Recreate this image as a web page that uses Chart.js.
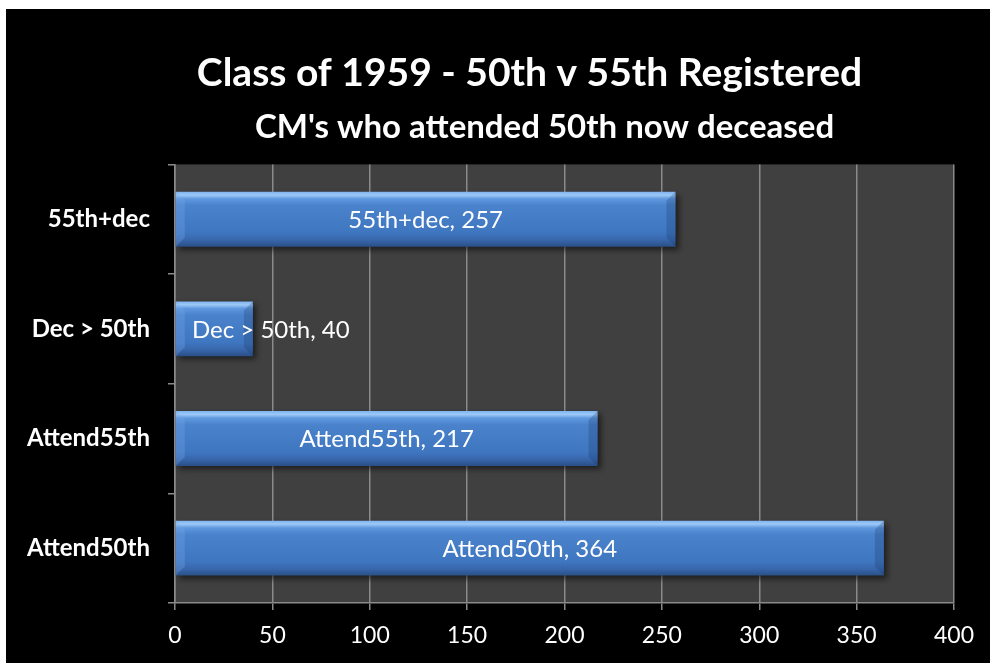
<!DOCTYPE html>
<html>
<head>
<meta charset="utf-8">
<script src="https://cdn.jsdelivr.net/npm/chart.js@4"></script>
<style>
html,body{margin:0;padding:0;background:#fff;width:990px;height:663px;overflow:hidden;}
#wrap{position:absolute;left:6px;top:9px;width:984px;height:654px;background:#000;}
canvas{display:block;}
</style>
</head>
<body>
<div id="wrap"><canvas id="c" width="984" height="654"></canvas></div>
<script>
const categories = ['55th+dec', 'Dec > 50th', 'Attend55th', 'Attend50th'];
const values = [257, 40, 217, 364];
const titleText = 'Class of 1959 - 50th v 55th Registered';
const subtitleText = "CM's who attended 50th now deceased";
const xMin = 0, xMax = 400, xStep = 50;

const FONT = 'Lato, "Liberation Sans", sans-serif';
const BAR_PCT = 0.5;
const TITLE_LEFT = 99;
const SUBTITLE_LEFT = 129;

function barGradient(context) {
  const chart = context.chart;
  const ca = chart.chartArea;
  if (!ca) return '#4a7ec8';
  const ys = chart.scales.y;
  const center = ys.getPixelForValue(context.dataIndex);
  const half = ys.height / categories.length * BAR_PCT / 2;
  const g = chart.ctx.createLinearGradient(0, center - half, 0, center + half);
  g.addColorStop(0, '#7fb2ee');
  g.addColorStop(0.06, '#9cc9f7');
  g.addColorStop(0.13, '#5f98de');
  g.addColorStop(0.25, '#4a82cc');
  g.addColorStop(0.75, '#3f76c0');
  g.addColorStop(0.88, '#3866ab');
  g.addColorStop(1, '#2a4f86');
  return g;
}

const plotBg = {
  id: 'plotBg',
  afterLayout(chart) {
    chart.boxes.forEach(b => {
      if (b.options && b.position === 'top') {
        if (b.options.text === titleText) b.left = TITLE_LEFT;
        else if (b.options.text === subtitleText) b.left = SUBTITLE_LEFT;
        b.width = b.right - b.left;
      }
    });
  },
  beforeDraw(chart) {
    const {ctx, chartArea: a} = chart;
    ctx.save();
    ctx.fillStyle = '#404040';
    ctx.fillRect(a.left, a.top, a.right - a.left, a.bottom - a.top);
    ctx.restore();
  }
};

const barDeco = {
  id: 'barDeco',
  beforeDatasetsDraw(chart) {
    const ctx = chart.ctx;
    ctx.save();
    ctx.shadowColor = 'rgba(0,0,0,0.55)';
    ctx.shadowBlur = 6;
    ctx.shadowOffsetX = 3;
    ctx.shadowOffsetY = 3;
  },
  afterDatasetsDraw(chart) {
    const ctx = chart.ctx;
    ctx.restore();
    const meta = chart.getDatasetMeta(0);
    ctx.save();
    meta.data.forEach((el, i) => {
      const x0 = el.base, x1 = el.x;
      const yt = el.y - el.height / 2, yb = el.y + el.height / 2;
      const b = Math.min(9, (x1 - x0) / 3);
      ctx.fillStyle = 'rgba(120,170,235,0.3)';
      ctx.beginPath();
      ctx.moveTo(x0, yt); ctx.lineTo(x0 + b, yt + b); ctx.lineTo(x0 + b, yb - b); ctx.lineTo(x0, yb); ctx.closePath();
      ctx.fill();
      ctx.fillStyle = 'rgba(20,50,100,0.25)';
      ctx.beginPath();
      ctx.moveTo(x1, yt); ctx.lineTo(x1 - b, yt + b); ctx.lineTo(x1 - b, yb - b); ctx.lineTo(x1, yb); ctx.closePath();
      ctx.fill();
    });
    ctx.font = '24px ' + FONT;
    ctx.fillStyle = '#ffffff';
    ctx.textBaseline = 'middle';
    ctx.textAlign = 'center';
    const left = chart.chartArea.left;
    meta.data.forEach((el, i) => {
      const txt = categories[i] + ', ' + values[i];
      const w = ctx.measureText(txt).width;
      let cx = (el.base + el.x) / 2;
      if (cx - w / 2 < left + 17) cx = left + 17 + w / 2;
      ctx.fillText(txt, cx, el.y + 1);
    });
    ctx.restore();
  }
};

new Chart(document.getElementById('c'), {
  type: 'bar',
  data: {
    labels: categories,
    datasets: [{
      data: values,
      backgroundColor: barGradient,
      borderWidth: 0,
      categoryPercentage: 1,
      barPercentage: BAR_PCT
    }]
  },
  plugins: [plotBg, barDeco],
  options: {
    indexAxis: 'y',
    responsive: false,
    animation: false,
    layout: { padding: { left: 0, right: 36, top: 0, bottom: 0 } },
    plugins: {
      legend: { display: false },
      tooltip: { enabled: false },
      title: {
        display: true,
        text: titleText,
        color: '#ffffff',
        font: { family: FONT, size: 39, weight: 'bold', lineHeight: 1.2 },
        padding: { top: 41, bottom: 0 }
      },
      subtitle: {
        display: true,
        text: subtitleText,
        color: '#ffffff',
        font: { family: FONT, size: 33, weight: 'bold', lineHeight: 1.2 },
        padding: { top: 11, bottom: 17 }
      }
    },
    scales: {
      x: {
        type: 'linear',
        min: xMin,
        max: xMax,
        ticks: { stepSize: xStep, color: '#ffffff', font: { family: FONT, size: 23 }, padding: 12 },
        grid: { color: '#8a8a8a', lineWidth: 1.5, tickLength: 7, drawTicks: true },
        border: { color: '#8a8a8a', width: 1.5 },
        afterFit(scale) { scale.height = 60; }
      },
      y: {
        ticks: { color: '#ffffff', font: { family: FONT, size: 24, weight: 'bold' }, padding: 18 },
        grid: { drawOnChartArea: false, color: '#8a8a8a', lineWidth: 1.5, tickLength: 7, offset: true },
        border: { color: '#8a8a8a', width: 1.5 },
        afterFit(scale) { scale.width = 169; }
      }
    }
  }
});
</script>
</body>
</html>
